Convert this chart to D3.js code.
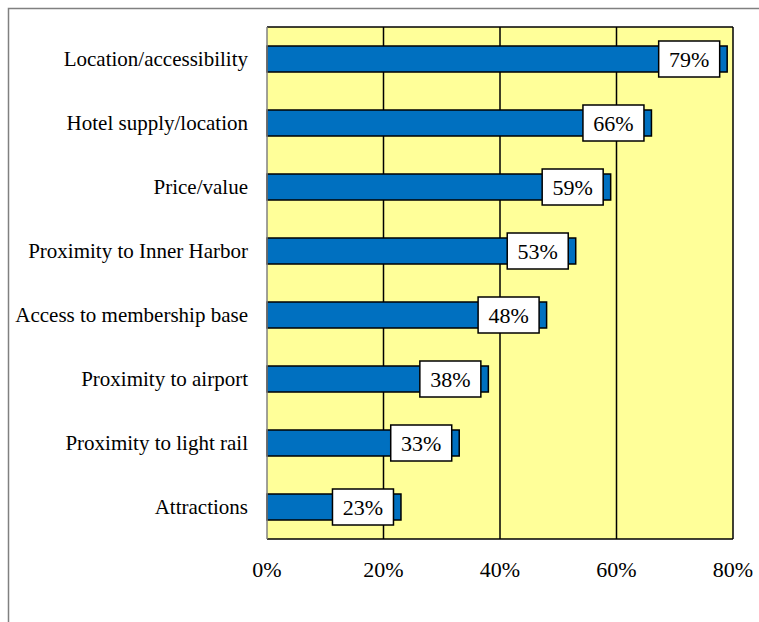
<!DOCTYPE html>
<html><head><meta charset="utf-8">
<script src="https://cdn.jsdelivr.net/npm/d3@7"></script>
<style>body{margin:0;background:#fff}svg{display:block}</style>
</head><body>
<script>
const categories = ["Location/accessibility","Hotel supply/location","Price/value","Proximity to Inner Harbor","Access to membership base","Proximity to airport","Proximity to light rail","Attractions"];
const values = [79,66,59,53,48,38,33,23];
const tickValues = [0,20,40,60,80];

const W=759,H=622;
const svg=d3.select("body").append("svg").attr("width",W).attr("height",H);
const font="Liberation Serif, Times New Roman, serif";

// outer frame
svg.append("rect").attr("x",8.5).attr("y",8.5).attr("width",W).attr("height",H)
  .attr("fill","none").attr("stroke","#808080").attr("stroke-width",1.5);

const L=267,R=733,T=27,B=539;
const x=d3.scaleLinear().domain([0,80]).range([L,R]);
const y=d3.scaleBand().domain(categories).range([T,B]);

svg.append("rect").attr("x",L).attr("y",T).attr("width",R-L).attr("height",B-T).attr("fill","#FFFF99");

// gridlines
svg.selectAll(".grid").data(tickValues.filter(d=>d>0&&d<80)).join("line")
  .attr("x1",d=>x(d)).attr("x2",d=>x(d)).attr("y1",T).attr("y2",B)
  .attr("stroke","#000").attr("stroke-width",1.5);

const bh=26;
svg.selectAll(".bar").data(values).join("rect")
  .attr("x",L).attr("y",(d,i)=>y(categories[i])+y.bandwidth()/2-bh/2)
  .attr("width",d=>x(d)-L).attr("height",bh)
  .attr("fill","#0070C0").attr("stroke","#000").attr("stroke-width",1.5);

// plot border
svg.append("line").attr("x1",L).attr("x2",R).attr("y1",T).attr("y2",T).attr("stroke","#000").attr("stroke-width",1.5);
svg.append("line").attr("x1",R).attr("x2",R).attr("y1",T).attr("y2",B).attr("stroke","#000").attr("stroke-width",1.5);
svg.append("line").attr("x1",L).attr("x2",R).attr("y1",B).attr("y2",B).attr("stroke","#000").attr("stroke-width",1.5);
svg.append("line").attr("x1",L).attr("x2",L).attr("y1",T).attr("y2",B).attr("stroke","#808080").attr("stroke-width",1.5);

// value labels
const bw=61,bhh=36;
const g=svg.selectAll(".lab").data(values).join("g")
  .attr("transform",(d,i)=>`translate(${x(d)-38},${y(categories[i])+y.bandwidth()/2})`);
g.append("rect").attr("x",-bw/2).attr("y",-bhh/2).attr("width",bw).attr("height",bhh)
  .attr("fill","#fff").attr("stroke","#000").attr("stroke-width",1.5);
g.append("text").attr("text-anchor","middle").attr("dy","0.35em")
  .attr("font-family",font).attr("font-size",22).text(d=>d+"%");

// category labels
svg.selectAll(".cat").data(categories).join("text")
  .attr("x",L-19).attr("y",d=>y(d)+y.bandwidth()/2).attr("dy","0.35em")
  .attr("text-anchor","end").attr("font-family",font).attr("font-size",21).text(d=>d);

// x axis labels
svg.selectAll(".tick").data(tickValues).join("text")
  .attr("x",d=>x(d)).attr("y",577).attr("text-anchor","middle")
  .attr("font-family",font).attr("font-size",22).text(d=>d+"%");
</script>
</body></html>
